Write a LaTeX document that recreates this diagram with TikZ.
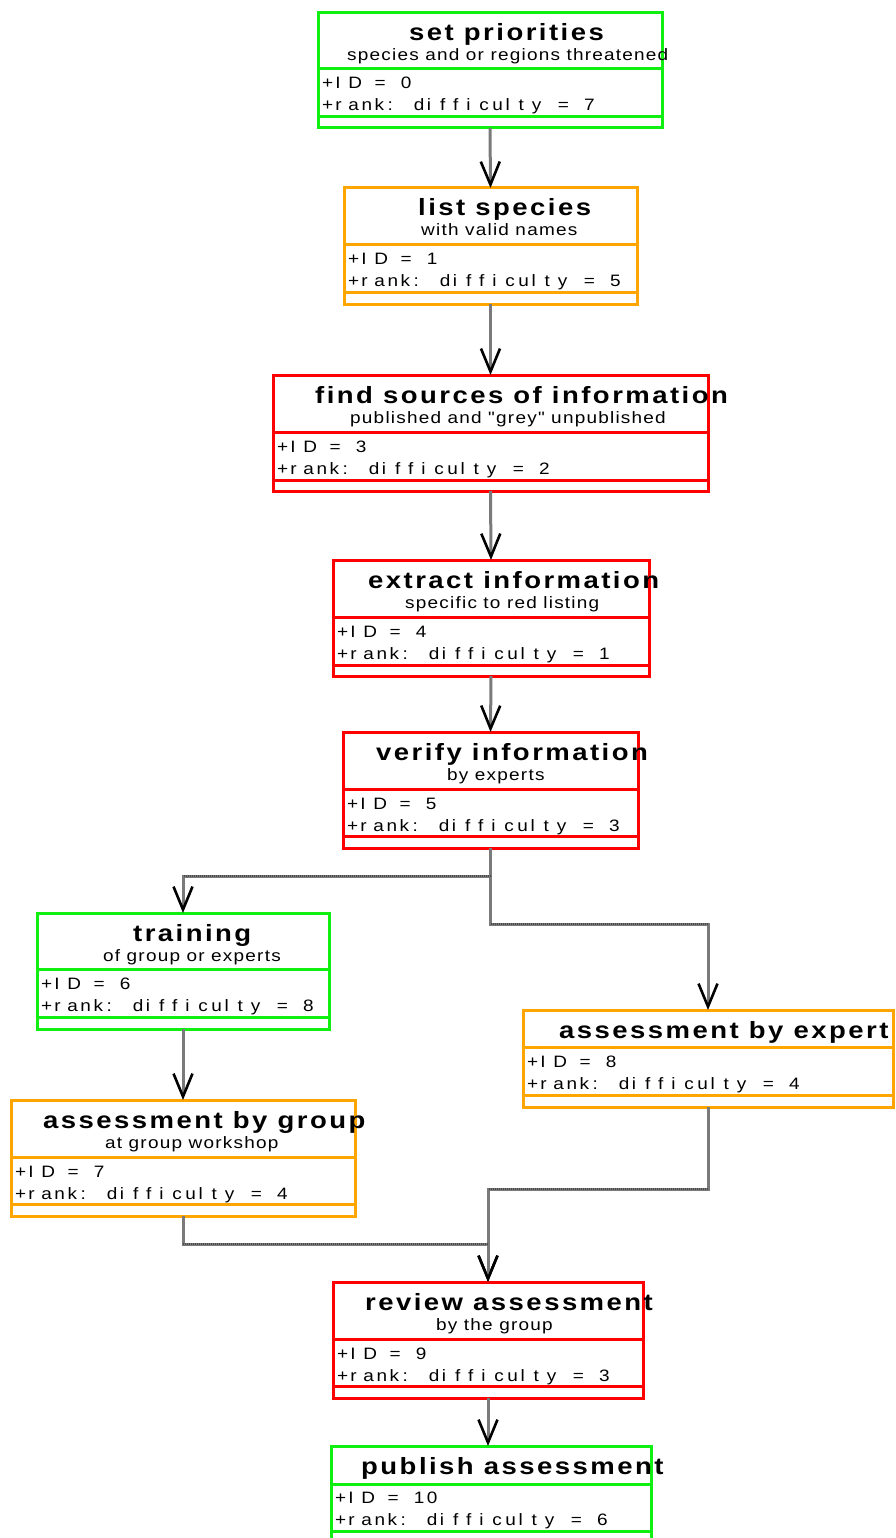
\documentclass[tikz,border=0pt]{standalone}
\usepackage{fontspec}
\usetikzlibrary{arrows.meta}
\setmainfont{Liberation Sans}
% wide, tracked faces of the class boxes
\newfontfamily\ttlfont[FakeStretch=1.17,LetterSpace=10.5,Ligatures=NoCommon]{Liberation Sans}
\newfontfamily\subfont[FakeStretch=1.15,LetterSpace=7.4,Ligatures=NoCommon]{Liberation Sans}
\newfontfamily\attfont[FakeStretch=1.15]{Liberation Sans}
% attribute lines: every character sits in a cell of equal width
\newcommand\monocells[1]{\monocellsi#1\relax}
\def\monocellsi#1{\ifx\relax#1\else\hbox to 13.1pt{#1\hss}\expandafter\monocellsi\fi}

\definecolor{cgreen}{HTML}{11EE11}
\definecolor{corange}{HTML}{FFA500}
\definecolor{cred}{HTML}{FF0000}
\definecolor{cwire}{HTML}{7A7A7A}
\definecolor{cstipple}{HTML}{4A4A4A}

\tikzset{
  box/.style={draw=#1, line width=3pt, anchor=north west, inner sep=0pt, outer sep=0pt},
  sepline/.style={draw=#1, line width=3pt},
  ttl/.style={anchor=base west, inner sep=0pt, font=\ttlfont\bfseries\fontsize{23.5pt}{23.5pt}\selectfont},
  sub/.style={anchor=base west, inner sep=0pt, font=\subfont\fontsize{16.5pt}{16.5pt}\selectfont},
  att/.style={anchor=base west, inner sep=0pt, font=\attfont\fontsize{16.5pt}{16.5pt}\selectfont},
  wire/.style={draw=cwire, line width=3pt,
    -{Straight Barb[length=23pt,width=19pt,line width=2.6pt,color=black]}},
  hdots/.style={draw=cstipple, line width=2.2pt, dash pattern=on 1pt off 1pt},
}

\begin{document}
\begin{tikzpicture}[x=1pt,y=-1pt]
\clip (0,0) rectangle (895,1538);
\fill[white] (0,0) rectangle (895,1538);

% ---------- class boxes ----------
\node[box=cgreen,  minimum width=344pt, minimum height=115pt] (prio)     at (318,13)   {};
\node[box=corange, minimum width=293pt, minimum height=116pt] (list)     at (344,188)  {};
\node[box=cred,    minimum width=435pt, minimum height=116pt] (sources)  at (273,375)  {};
\node[box=cred,    minimum width=316pt, minimum height=116pt] (extract)  at (333,560)  {};
\node[box=cred,    minimum width=295pt, minimum height=116pt] (verify)   at (343,732)  {};
\node[box=cgreen,  minimum width=292pt, minimum height=116pt] (training) at (37,913)   {};
\node[box=corange, minimum width=344pt, minimum height=116pt] (group)    at (11,1100)  {};
\node[box=corange, minimum width=370pt, minimum height=97pt]  (expert)   at (523,1010) {};
\node[box=cred,    minimum width=310pt, minimum height=116pt] (review)   at (333,1282) {};
\node[box=cgreen,  minimum width=320pt, minimum height=97pt]  (publish)  at (331,1446) {};

% compartment separators
\foreach \n/\c/\a/\b in {prio/cgreen/56/104, list/corange/57/104, sources/cred/57/105,
    extract/cred/57/105, verify/cred/57/104, training/cgreen/56/104, group/corange/57/104,
    expert/corange/37/85, review/cred/57/104, publish/cgreen/38/85}{
  \draw[sepline=\c] ([yshift=-\a pt]\n.north west) -- ([yshift=-\a pt]\n.north east);
  \draw[sepline=\c] ([yshift=-\b pt]\n.north west) -- ([yshift=-\b pt]\n.north east);
}

% ---------- texts ----------
\node[ttl] (prio-t) at (409,41) {set priorities};
\node[sub] (prio-s) at (347,61) {species and or regions threatened};
\node[att] (prio-a) at (322,89) {\monocells{+ID~=~0}};
\node[att] (prio-b) at (322,111) {\monocells{+rank:~difficulty~=~7}};

\node[ttl] (list-t) at (418,216) {list species};
\node[sub] (list-s) at (421,236) {with valid names};
\node[att] (list-a) at (348,265) {\monocells{+ID~=~1}};
\node[att] (list-b) at (348,287) {\monocells{+rank:~difficulty~=~5}};

\node[ttl] (sources-t) at (315,403) {find sources of information};
\node[sub] (sources-s) at (350,423) {published and "grey" unpublished};
\node[att] (sources-a) at (277,452) {\monocells{+ID~=~3}};
\node[att] (sources-b) at (277,474) {\monocells{+rank:~difficulty~=~2}};

\node[ttl] (extract-t) at (368,588) {extract information};
\node[sub] (extract-s) at (405,608) {specific to red listing};
\node[att] (extract-a) at (337,637) {\monocells{+ID~=~4}};
\node[att] (extract-b) at (337,659) {\monocells{+rank:~difficulty~=~1}};

\node[ttl] (verify-t) at (376,760) {verify information};
\node[sub] (verify-s) at (447,780) {by experts};
\node[att] (verify-a) at (347,809) {\monocells{+ID~=~5}};
\node[att] (verify-b) at (347,831) {\monocells{+rank:~difficulty~=~3}};

\node[ttl] (training-t) at (133,941) {training};
\node[sub] (training-s) at (103,961) {of group or experts};
\node[att] (training-a) at (41,989) {\monocells{+ID~=~6}};
\node[att] (training-b) at (41,1011) {\monocells{+rank:~difficulty~=~8}};

\node[ttl] (group-t) at (43,1128) {assessment by group};
\node[sub] (group-s) at (105,1148) {at group workshop};
\node[att] (group-a) at (15,1177) {\monocells{+ID~=~7}};
\node[att] (group-b) at (15,1199) {\monocells{+rank:~difficulty~=~4}};

\node[ttl] (expert-t) at (559,1038) {assessment by expert};
\node[att] (expert-a) at (527,1067) {\monocells{+ID~=~8}};
\node[att] (expert-b) at (527,1089) {\monocells{+rank:~difficulty~=~4}};

\node[ttl] (review-t) at (365,1310) {review assessment};
\node[sub] (review-s) at (436,1330) {by the group};
\node[att] (review-a) at (337,1359) {\monocells{+ID~=~9}};
\node[att] (review-b) at (337,1381) {\monocells{+rank:~difficulty~=~3}};

\node[ttl] (publish-t) at (361,1474) {publish assessment};
\node[att] (publish-a) at (335,1503) {\monocells{+ID~=~10}};
\node[att] (publish-b) at (335,1525) {\monocells{+rank:~difficulty~=~6}};

% ---------- connectors ----------
\draw[wire] (prio.south) -- (list.north);
\draw[wire] (list.south) -- (sources.north);
\draw[wire] (sources.south) -- (extract.north);
\draw[wire] (extract.south) -- (verify.north);

\path (verify.south) ++(0,28) coordinate (v1);
\path (verify.south) ++(0,76) coordinate (v2);
\draw[wire] (verify.south) -- (v1) -| (training.north);
\draw[wire] (verify.south) -- (v2) -| (expert.north);

\draw[wire] (training.south) -- (group.north);

\path (group.south) ++(0,28) coordinate (g1);
\path (expert.south) ++(0,82) coordinate (e1);
\draw[wire] (group.south) -- (g1) -| (review.north);
\draw[wire] (expert.south) -- (e1) -| (review.north);

\draw[wire] (review.south) -- (review.south |- publish.north);

% stippled texture of the horizontal runs
\draw[hdots] (v1) -- (v1 -| training.north);
\draw[hdots] (v2) -- (v2 -| expert.north);
\draw[hdots] (g1) -- (g1 -| review.north);
\draw[hdots] (e1) -- (e1 -| review.north);
\end{tikzpicture}
\end{document}
